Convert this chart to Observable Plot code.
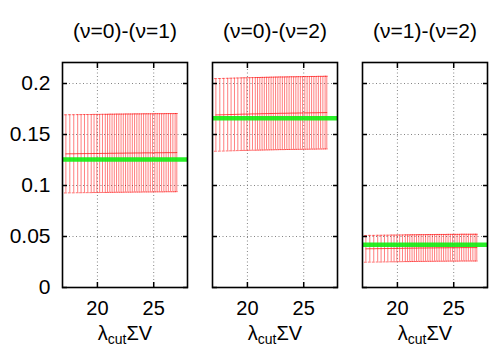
<!DOCTYPE html>
<html>
<head>
<meta charset="utf-8">
<script src="https://cdn.jsdelivr.net/npm/d3@7"></script>
<script src="https://cdn.jsdelivr.net/npm/@observablehq/plot@0.6"></script>
<style>
  html, body { margin: 0; padding: 0; background: #fff; }
</style>
</head>
<body>
<div id="chart"></div>
<script>
// Panel titles
const panels = ["(ν=0)-(ν=1)", "(ν=0)-(ν=2)", "(ν=1)-(ν=2)"];
// x positions (λcut ΣV) of the error bars
const xs = [17.2, 17.55, 17.9, 18.25, 18.55, 18.85, 19.15, 19.45, 19.7, 19.95, 20.2, 20.45,
  20.7, 20.9, 21.1, 21.3, 21.5, 21.7, 21.9, 22.1, 22.3, 22.5, 22.7, 22.9, 23.1, 23.3, 23.5,
  23.7, 23.9, 24.1, 24.3, 24.5, 24.7, 24.9, 25.1, 25.3, 25.5, 25.7, 25.9, 26.1, 26.3, 26.5,
  26.7, 26.9, 27.05];
// central values per panel
const center01 = [0.1310,0.1311,0.1311,0.1312,0.1312,0.1313,0.1313,0.1313,0.1314,0.1314,0.1314,
  0.1315,0.1315,0.1315,0.1316,0.1316,0.1316,0.1317,0.1317,0.1317,0.1317,0.1318,0.1318,0.1318,
  0.1318,0.1319,0.1319,0.1319,0.1319,0.1320,0.1320,0.1320,0.1320,0.1320,0.1321,0.1321,0.1321,
  0.1321,0.1321,0.1322,0.1322,0.1322,0.1322,0.1322,0.1323];
const center02 = [0.1692,0.1693,0.1694,0.1695,0.1696,0.1697,0.1698,0.1699,0.1700,0.1700,0.1701,
  0.1702,0.1702,0.1703,0.1703,0.1704,0.1704,0.1705,0.1705,0.1706,0.1706,0.1707,0.1707,0.1708,
  0.1708,0.1708,0.1709,0.1709,0.1710,0.1710,0.1710,0.1711,0.1711,0.1711,0.1712,0.1712,0.1712,
  0.1713,0.1713,0.1713,0.1714,0.1714,0.1714,0.1715,0.1715];
const center12 = [0.0379,0.0380,0.0380,0.0381,0.0381,0.0382,0.0382,0.0383,0.0383,0.0383,0.0384,
  0.0384,0.0385,0.0385,0.0385,0.0386,0.0386,0.0386,0.0387,0.0387,0.0387,0.0387,0.0388,0.0388,
  0.0388,0.0388,0.0389,0.0389,0.0389,0.0389,0.0389,0.0390,0.0390,0.0390,0.0390,0.0390,0.0390,
  0.0391,0.0391,0.0391,0.0391,0.0391,0.0391,0.0391,0.0391];
// half-widths of the error bars per panel
const errors = [0.0383, 0.0356, 0.0131];
// reference (green) values per panel
const reference = [0.1255, 0.166, 0.0418];
// axis ticks
const yTicks = [0, 0.05, 0.1, 0.15, 0.2];
const xTicks = [20, 25];
const xLabel = "λcutΣV";

const centers = [center01, center02, center12];
const rows = [];
panels.forEach((p, i) => {
  xs.forEach((x, j) => {
    const c = centers[i][j];
    rows.push({panel: p, x, y: c, lo: c - errors[i], hi: c + errors[i]});
  });
});
const refRows = panels.map((p, i) => ({panel: p, value: reference[i]}));

const chart = Plot.plot({
  width: 500,
  height: 350,
  marginLeft: 62,
  marginRight: 13,
  marginTop: 62,
  marginBottom: 63,
  style: {fontFamily: "'Liberation Sans', Arial, Helvetica, sans-serif", fontSize: "21px", background: "#fff"},
  fx: {domain: panels, paddingInner: 25 / 150, paddingOuter: 0, axis: null},
  x: {domain: [16.9, 28]},
  y: {domain: [0, 0.2206]},
  marks: [
    Plot.gridY(yTicks, {stroke: "#777", strokeOpacity: 0.9, strokeDasharray: "1,2.5"}),
    Plot.gridX(xTicks, {stroke: "#777", strokeOpacity: 0.9, strokeDasharray: "1,2.5"}),
    Plot.ruleX(rows, {fx: "panel", x: "x", y1: "lo", y2: "hi", stroke: "#ff0000", strokeOpacity: 0.5, strokeWidth: 1}),
    Plot.ruleY(rows, {fx: "panel", x1: d => d.x - 0.13, x2: d => d.x + 0.13, y: "hi", stroke: "#ff0000", strokeOpacity: 0.55}),
    Plot.ruleY(rows, {fx: "panel", x1: d => d.x - 0.13, x2: d => d.x + 0.13, y: "lo", stroke: "#ff0000", strokeOpacity: 0.55}),
    Plot.line(rows, {fx: "panel", x: "x", y: "y", stroke: "#ff0000", strokeOpacity: 0.7, strokeWidth: 1}),
    Plot.ruleY(refRows, {fx: "panel", y: "value", stroke: "#11ee11", strokeOpacity: 0.9, strokeWidth: 4.5}),
    Plot.axisY(yTicks, {anchor: "left", tickSize: 0, tickPadding: 12, tickFormat: d => String(+d.toFixed(2)), fontSize: 21, label: null}),
    Plot.axisY(yTicks, {anchor: "left", tickSize: -5, text: null, facetAnchor: null, label: null, strokeWidth: 1.5}),
    Plot.axisY(yTicks, {anchor: "right", tickSize: -5, text: null, facetAnchor: null, label: null, strokeWidth: 1.5}),
    Plot.axisX(xTicks, {anchor: "bottom", tickSize: 0, tickPadding: 13, fontSize: 20, label: null}),
    Plot.axisX(xTicks, {anchor: "bottom", tickSize: -5, text: null, label: null, strokeWidth: 1.5}),
    Plot.axisX(xTicks, {anchor: "top", tickSize: -5, text: null, label: null, strokeWidth: 1.5}),
    Plot.frame({stroke: "#000", strokeWidth: 1.6}),
    Plot.text(panels, {fx: d => d, text: d => d, frameAnchor: "top", dy: -39, fontSize: 21}),
    Plot.text(panels, {fx: d => d, text: () => xLabel, frameAnchor: "bottom", dy: 52, fontSize: 20})
  ]
});

// Render the subscript in the x labels as real text with tspans
d3.select(chart).selectAll("text").filter(function() { return this.textContent === xLabel; }).each(function() {
  const t = d3.select(this);
  t.text(null);
  t.append("tspan").text("λ");
  t.append("tspan").attr("dy", 4).attr("font-size", 14).text("cut");
  t.append("tspan").attr("dy", -4).text("ΣV");
});

document.getElementById("chart").appendChild(chart);
</script>
</body>
</html>
